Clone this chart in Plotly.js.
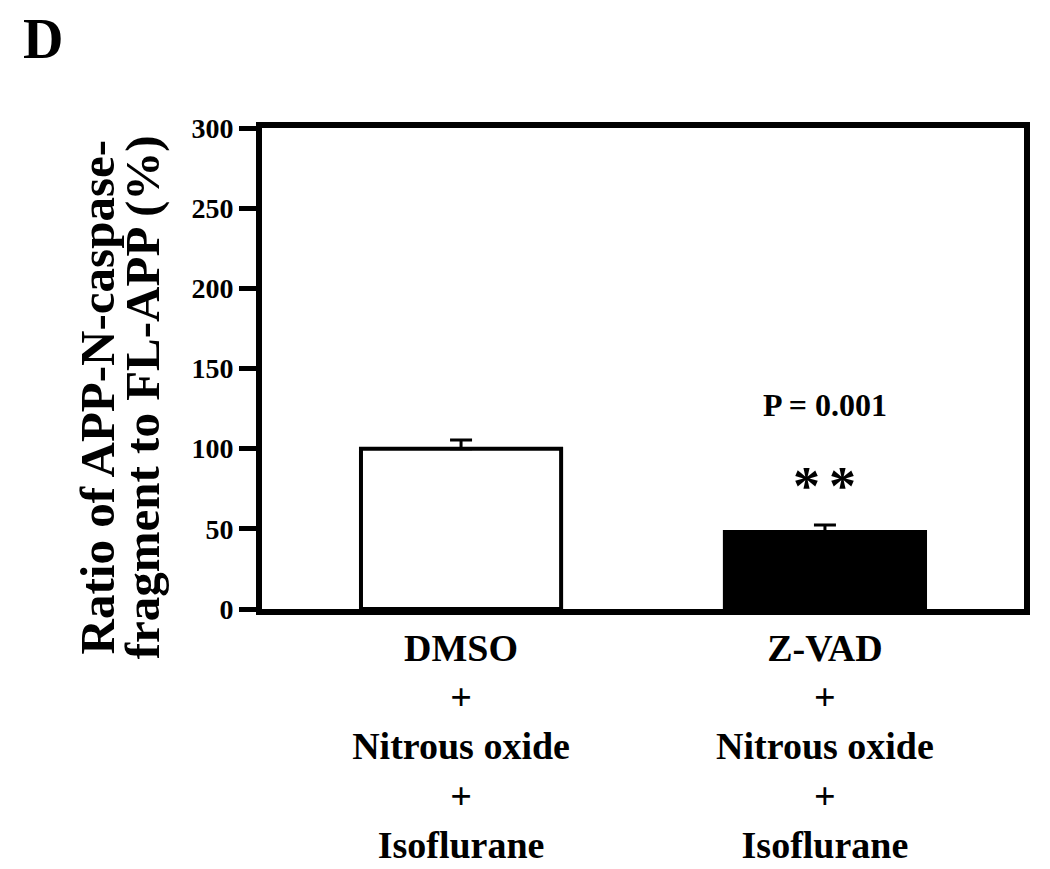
<!DOCTYPE html>
<html>
<head>
<meta charset="utf-8">
<script src="https://cdn.plot.ly/plotly-3.0.1.min.js"></script>
<style>html,body{margin:0;padding:0;background:#fff;}#chart{width:1050px;height:869px;}</style>
</head>
<body>
<div id="chart"></div>
<script>
const categories = ["DMSO<br>+<br>Nitrous oxide<br>+<br>Isoflurane", "Z-VAD<br>+<br>Nitrous oxide<br>+<br>Isoflurane"];
const values = [100, 48];
const errorsUp = [5.4, 4.4];
const yTicks = [0, 50, 100, 150, 200, 250, 300];
const yTitleLines = ["Ratio of APP-N-caspase-", "fragment to FL-APP (%)"];
const panelLabel = "D";
const pText = "P = 0.001";
const sigText = "*\u2006*";

const serif = "Liberation Serif, Times New Roman, serif";

const trace = {
  type: "bar",
  x: [0, 1],
  y: values,
  width: 0.55,
  marker: {color: ["#ffffff", "#000000"], line: {color: "#000000", width: 4}},
  error_y: {type: "data", symmetric: false, array: errorsUp, arrayminus: [0, 0], color: "#000000", thickness: 3, width: 11},
  hoverinfo: "none"
};

const layout = {
  width: 1050, height: 869,
  margin: {l: 262, r: 26, t: 128, b: 260},
  paper_bgcolor: "#ffffff", plot_bgcolor: "#ffffff",
  showlegend: false,
  xaxis: {
    range: [-0.547, 1.547],
    tickmode: "array", tickvals: [0, 1], ticktext: categories,
    ticks: "", showgrid: false, zeroline: false,
    showline: true, linecolor: "#000", linewidth: 6, mirror: true,
    tickfont: {family: serif, size: 38, color: "#000", weight: "bold"}
  },
  yaxis: {
    range: [0, 300],
    tickmode: "array", tickvals: yTicks, ticktext: yTicks.map(String),
    ticks: "outside", ticklen: 17, tickwidth: 5, tickcolor: "#000",
    showgrid: false, zeroline: false,
    showline: true, linecolor: "#000", linewidth: 6, mirror: true,
    tickfont: {family: serif, size: 28, color: "#000", weight: "bold"}
  },
  annotations: [
    {text: yTitleLines[0], xref: "paper", yref: "paper", x: -0.2165, y: 0.44, xanchor: "center", yanchor: "middle", textangle: -90, showarrow: false, font: {family: serif, size: 49, color: "#000", weight: "bold"}},
    {text: yTitleLines[1], xref: "paper", yref: "paper", x: -0.1575, y: 0.44, xanchor: "center", yanchor: "middle", textangle: -90, showarrow: false, font: {family: serif, size: 49, color: "#000", weight: "bold"}},
    {text: panelLabel, xref: "paper", yref: "paper", x: -0.287, y: 1.185, xanchor: "center", yanchor: "middle", showarrow: false, font: {family: serif, size: 56, color: "#000", weight: "bold"}},
    {text: pText, xref: "x", yref: "y", x: 1, y: 127, xanchor: "center", yanchor: "middle", showarrow: false, font: {family: serif, size: 32, color: "#000", weight: "bold"}},
    {text: sigText, xref: "x", yref: "y", x: 1, y: 77, xanchor: "center", yanchor: "middle", showarrow: false, font: {family: serif, size: 54, color: "#000", weight: "bold"}}
  ]
};

Plotly.newPlot("chart", [trace], layout, {displayModeBar: false, staticPlot: true});
</script>
</body>
</html>
